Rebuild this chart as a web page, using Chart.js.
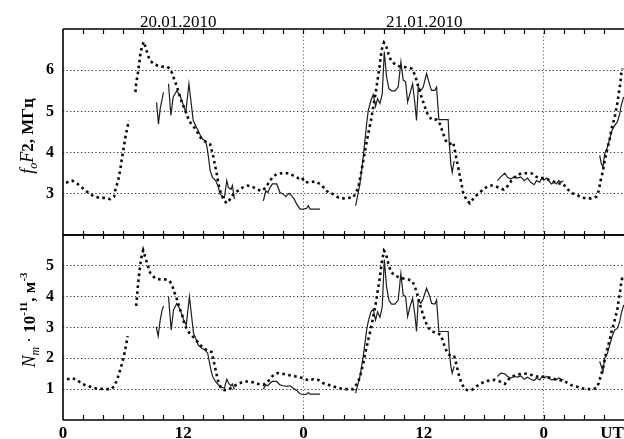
<!DOCTYPE html>
<html><head><meta charset="utf-8">
<script src="https://cdn.jsdelivr.net/npm/chart.js@4.4.1/dist/chart.umd.min.js"></script>
<style>
html,body{margin:0;padding:0;background:#fff;}
#wrap{position:relative;width:624px;height:439px;overflow:hidden;background:#fff;}
canvas{position:absolute;left:0;}
#top{top:0;}
#bot{top:230px;}
</style></head><body>
<div id="wrap"><canvas id="top" width="624" height="236"></canvas><canvas id="bot" width="624" height="209"></canvas></div>
<script>
// ---------- DATA (hours UT from 00 of 20.01.2010) ----------
const dateLabels = ['20.01.2010', '21.01.2010'];
const dateLabelHours = [11.5, 36.05];
const xTickValues = [0, 12, 24, 36, 48, 54.8];
const xTickLabels = ['0', '12', '0', '12', '0', 'UT'];
const dayBoundaries = [24, 48];
const yTicksTop = [3, 4, 5, 6];
const yTicksBottom = [1, 2, 3, 4, 5];

// model foF2 (dotted), MHz
const modelHoursTop = [0.3,0.9,1.4,1.9,2.3,2.7,3.2,3.7,4.2,4.7,
 5.1,5.2,5.5,5.7,5.9,6.07,6.23,6.4,6.57,6.9,
 7.23,7.3,7.47,7.6,7.73,7.9,8.07,8.27,8.47,8.67,
 9.07,9.57,10.07,10.4,10.67,10.9,11.13,11.4,11.57,11.8,
 12.07,12.33,12.57,12.8,13.07,13.4,13.73,14.05,14.35,14.69,
 14.85,15.02,15.18,15.35,15.52,15.78,16.11,16.35,16.68,17.01,
 17.44,17.91,18.44,18.91,19.34,19.84,20.24,20.57,20.9,21.33,
 21.9,22.5,23.0,23.49,23.82,24.16,24.66,25.15,25.65,26.08,
 26.48,26.98,27.48,27.98,28.48,28.98,29.48,29.74,29.97,30.21,
 30.47,30.74,30.97,31.2,31.4,31.64,31.8,32.04,32.23,32.47,
 32.73,33.07,33.46,33.96,34.46,34.79,35.06,35.29,35.52,35.79,
 36.06,36.39,36.79,37.29,37.62,37.95,38.28,38.62,38.95,39.18,
 39.45,39.71,39.94,40.28,40.61,41.11,41.6,42.11,42.6,43.0,
 43.5,44.0,44.43,44.77,45.26,45.76,46.26,46.76,47.26,47.76,
 48.26,48.75,49.42,49.92,50.25,50.75,51.25,51.74,52.24,52.74,
 53.24,53.47,53.67,53.9,54.07,54.3,54.57,54.8,55.07,55.33,
 55.47,55.63,55.73,55.85];
const modelFoF2 = [3.27,3.32,3.25,3.15,3.07,2.99,2.93,2.9,2.9,2.87,
 2.93,3.07,3.32,3.56,3.89,4.13,4.37,4.58,4.78,null,
 5.47,5.67,5.92,6.16,6.4,6.6,6.69,6.53,6.37,6.24,
 6.15,6.1,6.08,6.08,6.04,5.92,5.76,5.59,5.43,5.27,
 5.1,4.94,4.78,4.7,4.62,4.5,4.37,4.29,4.25,4.2,
 4.05,3.89,3.68,3.48,3.24,2.99,2.83,2.77,2.87,2.99,
 3.07,3.15,3.2,3.17,3.11,3.07,3.15,3.28,3.4,3.48,
 3.5,3.5,3.44,3.38,3.4,3.28,3.28,3.3,3.24,3.14,
 3.03,2.99,2.91,2.89,2.9,2.91,3.15,3.48,3.8,4.13,
 4.46,4.78,5.11,5.43,5.76,6.16,6.49,6.67,6.61,6.41,
 6.24,6.16,6.1,6.08,6.07,6.04,5.92,5.76,5.55,5.35,
 5.15,4.94,4.8,4.8,4.7,4.46,4.25,4.21,4.25,3.97,
 3.64,3.32,3.03,2.85,2.77,2.93,3.03,3.14,3.2,3.2,
 3.15,3.1,3.2,3.32,3.44,3.5,3.5,3.5,3.41,3.38,
 3.36,3.32,3.25,3.25,3.14,3.02,2.98,2.91,2.89,2.89,
 2.93,3.07,3.32,3.56,3.8,4.05,4.33,4.62,4.86,5.19,
 5.43,5.67,5.92,6.04];

// observed foF2 (solid), MHz
const obsHoursTop = [9.34,9.53,9.7,10.03,10.3,10.53,10.77,11.0,11.36,11.7,
 12.03,12.26,12.57,12.8,13.0,13.23,13.47,13.73,13.93,14.19,
 14.35,14.52,14.69,14.92,15.25,15.52,15.68,15.91,16.11,16.35,
 16.51,16.78,16.91,17.11,18.5,20.0,20.24,20.44,20.67,20.9,
 21.33,21.66,22.0,22.23,22.56,22.83,23.09,23.33,23.66,24.0,
 24.32,24.49,24.66,25.15,25.65,27.0,29.21,29.64,29.97,30.31,
 30.47,30.74,30.97,31.2,31.4,31.64,31.87,32.07,32.3,32.53,
 32.8,33.13,33.46,33.73,33.96,34.2,34.4,34.63,34.9,35.13,
 35.29,35.46,35.72,35.96,36.29,36.62,36.79,37.12,37.29,37.52,
 38.45,38.55,38.72,38.85,39.05,41.0,43.37,43.7,44.1,44.37,
 44.7,45.03,45.36,45.7,46.03,46.36,46.69,47.03,47.26,47.59,
 47.82,48.02,48.26,48.49,48.75,49.02,49.25,49.48,49.75,49.95,
 51.0,53.57,53.74,53.9,54.07,54.34,54.57,54.8,55.07,55.33,
 55.57,55.73,55.97];
const obsFoF2 = [5.22,4.69,5.06,5.46,null,5.67,4.9,5.35,5.5,5.38,
 5.14,4.98,5.67,5.19,4.78,4.66,4.54,4.41,4.33,4.29,
 4.17,3.89,3.56,3.4,3.32,3.15,2.99,2.95,2.91,3.32,
 3.15,3.11,3.2,2.87,null,2.83,3.07,3.03,3.15,3.24,
 3.24,3.03,2.99,2.93,3.01,2.95,2.87,2.75,2.63,2.63,
 2.65,2.71,2.63,2.63,2.63,null,2.71,3.24,3.89,4.7,
 5.02,5.27,5.41,5.12,5.31,5.19,5.43,6.45,5.84,5.55,
 5.5,5.5,5.59,6.2,5.76,5.72,5.23,5.43,5.67,5.19,
 4.78,5.59,5.51,5.59,5.92,5.63,5.51,5.51,5.59,4.8,
 4.8,4.25,3.72,3.52,3.8,null,3.32,3.41,3.5,3.4,
 3.36,3.41,3.38,3.41,3.32,3.38,3.28,3.22,3.32,3.28,
 3.4,3.33,3.38,3.32,3.24,3.28,3.24,3.32,3.28,3.32,
 null,3.93,3.73,3.65,3.97,4.13,4.33,4.54,4.66,4.74,
 4.94,5.15,5.35];

// model Nm (dotted), 10^11 m^-3
const modelHoursBottom = [0.4,0.9,1.4,1.9,2.4,2.9,3.4,3.9,4.4,4.8,
 5.1,5.4,5.65,5.9,6.1,6.3,6.45,6.9,7.3,7.4,
 7.5,7.65,7.8,8.0,8.2,8.45,8.7,9.2,9.7,10.2,
 10.65,10.9,11.1,11.4,11.65,11.9,12.1,12.4,12.65,12.9,
 13.2,13.55,13.9,14.4,14.85,15.05,15.25,15.45,15.7,16.1,
 16.5,17.01,17.5,18.0,18.5,19.0,19.5,20.0,20.33,20.67,
 21.0,21.43,21.9,22.5,23.0,23.49,24.0,24.49,25.0,25.5,
 26.0,26.48,26.98,27.48,27.98,28.48,28.98,29.48,29.74,29.97,
 30.21,30.47,30.74,30.97,31.2,31.4,31.64,31.8,32.04,32.23,
 32.47,32.73,33.07,33.46,33.96,34.46,34.86,35.06,35.29,35.52,
 35.79,36.06,36.39,36.79,37.29,37.72,38.05,38.38,38.78,39.05,
 39.28,39.51,39.78,40.11,40.44,40.84,41.2,41.61,42.11,42.6,
 43.1,43.6,44.1,44.43,44.77,45.26,45.76,46.26,46.76,47.26,
 47.76,48.26,48.75,49.42,49.92,50.25,50.75,51.25,51.74,52.24,
 52.74,53.24,53.47,53.67,53.9,54.07,54.3,54.57,54.8,55.07,
 55.33,55.47,55.63,55.73,55.85];
const modelNm = [1.32,1.36,1.3,1.17,1.11,1.06,1.01,1.01,1.0,1.0,
 1.09,1.3,1.57,1.84,2.11,2.43,2.72,null,3.7,4.05,
 4.43,4.86,5.24,5.5,5.29,5.02,4.77,4.59,4.56,4.56,
 4.51,4.37,4.16,3.89,3.62,3.4,3.13,2.92,2.81,2.73,
 2.62,2.49,2.36,2.25,2.2,1.9,1.6,1.3,1.08,0.97,
 0.98,1.09,1.17,1.25,1.25,1.22,1.17,1.14,1.22,1.32,
 1.46,1.52,1.5,1.46,1.43,1.39,1.36,1.28,1.32,1.3,
 1.19,1.14,1.09,1.04,1.0,1.0,1.0,1.25,1.52,1.84,
 2.22,2.6,2.97,3.35,3.73,4.16,4.64,5.08,5.49,5.4,
 5.08,4.81,4.7,4.64,4.59,4.56,4.51,4.37,4.16,3.89,
 3.57,3.3,3.03,2.87,2.83,2.76,2.43,2.16,2.06,2.06,
 1.79,1.46,1.19,1.0,0.96,0.98,1.07,1.17,1.25,1.28,
 1.3,1.25,1.17,1.3,1.41,1.46,1.5,1.5,1.46,1.41,
 1.41,1.39,1.36,1.3,1.28,1.22,1.13,1.09,1.03,1.0,
 1.0,1.03,1.19,1.41,1.68,1.95,2.27,2.6,2.92,3.24,
 3.57,3.89,4.21,4.48,4.64];

// observed Nm (solid), 10^11 m^-3
const obsHoursBottom = [9.3,9.5,9.7,9.9,10.03,10.3,10.53,10.8,11.03,11.36,
 11.7,12.03,12.3,12.62,12.86,13.03,13.3,13.5,13.85,14.19,
 14.45,14.6,14.8,15.0,15.35,15.6,15.85,16.11,16.35,16.58,
 16.78,16.91,17.11,18.5,20.0,20.24,20.44,20.67,20.9,21.33,
 21.66,22.0,22.33,22.66,23.0,23.33,23.66,24.0,24.32,24.49,
 24.66,25.15,25.65,27.0,29.21,29.64,29.97,30.31,30.47,30.74,
 30.97,31.2,31.4,31.64,31.87,32.07,32.3,32.53,32.8,33.13,
 33.46,33.73,33.96,34.2,34.4,34.63,34.9,35.13,35.29,35.46,
 35.72,35.96,36.29,36.62,36.79,37.12,37.29,37.52,38.45,38.55,
 38.72,38.85,39.05,41.0,43.37,43.7,44.1,44.37,44.7,45.03,
 45.36,45.7,46.03,46.36,46.69,47.03,47.26,47.59,47.82,48.02,
 48.26,48.49,48.75,49.02,49.25,49.48,49.75,49.95,51.0,53.57,
 53.74,53.9,54.07,54.34,54.57,54.8,55.07,55.33,55.57,55.73,
 55.97];
const obsNm = [3.03,2.72,3.24,3.57,3.7,null,4.0,2.92,3.57,3.78,
 3.57,3.26,3.08,4.0,3.3,2.81,2.6,2.43,2.33,2.27,
 2.16,1.9,1.57,1.36,1.2,1.11,1.06,1.03,1.32,1.17,
 1.11,1.17,1.0,null,1.0,1.14,1.11,1.19,1.25,1.25,
 1.14,1.11,1.09,1.11,1.03,0.96,0.85,0.82,0.84,0.89,
 0.84,0.84,0.84,null,0.87,1.41,2.06,2.92,3.19,3.51,
 3.59,3.24,3.51,3.33,3.67,5.2,4.32,3.89,3.76,3.76,
 3.89,4.75,4.05,4.0,3.35,3.67,3.94,3.4,2.87,3.89,
 3.78,3.94,4.27,4.0,3.78,3.76,3.89,2.87,2.87,2.27,
 1.73,1.52,1.75,null,1.41,1.52,1.5,1.41,1.36,1.41,
 1.39,1.43,1.32,1.39,1.32,1.28,1.36,1.3,1.41,1.36,
 1.41,1.36,1.3,1.32,1.3,1.36,1.32,1.3,null,1.9,
 1.73,1.57,2.0,2.16,2.43,2.7,2.92,2.97,3.19,3.46,
 3.73];

// ---------- RENDERING ----------
const SERIF = "'Liberation Serif','Times New Roman',serif";
Chart.defaults.font.family = SERIF;
Chart.defaults.color = '#000';

function pts(h, v) { return h.map((x, i) => ({ x: x, y: v[i] })); }

const frame = {
  id: 'frame',
  afterDraw(chart, args, o) {
    const ctx = chart.ctx, a = chart.chartArea, x = chart.scales.x;
    ctx.save();
    ctx.strokeStyle = '#000';
    ctx.lineWidth = 1.6;
    ctx.beginPath();
    ctx.moveTo(a.left, a.top); ctx.lineTo(a.right, a.top);
    ctx.moveTo(a.left, a.bottom); ctx.lineTo(a.right, a.bottom);
    ctx.moveTo(a.left, a.top); ctx.lineTo(a.left, a.bottom);
    ctx.stroke();
    ctx.lineWidth = 1.2;
    ctx.beginPath();
    for (let h = 2; h < 56; h += 2) {
      const px = Math.round(x.getPixelForValue(h)) + 0.5;
      ctx.moveTo(px, a.top); ctx.lineTo(px, a.top + o.topLen);
      ctx.moveTo(px, a.bottom); ctx.lineTo(px, a.bottom - o.bottomLen);
    }
    ctx.stroke();
    ctx.restore();
  }
};

const richTitle = {
  id: 'richTitle',
  afterDraw(chart, args, o) {
    if (!o.pieces) return;
    const ctx = chart.ctx;
    ctx.save();
    ctx.fillStyle = '#000';
    ctx.textBaseline = 'alphabetic';
    ctx.textAlign = 'left';
    let w = 0;
    for (const p of o.pieces) { ctx.font = p.font; w += ctx.measureText(p.text).width; }
    ctx.translate(o.x, o.y);
    ctx.rotate(-Math.PI / 2);
    let cx = -w / 2;
    for (const p of o.pieces) {
      ctx.font = p.font;
      ctx.fillText(p.text, cx, p.dy || 0);
      cx += ctx.measureText(p.text).width;
    }
    ctx.restore();
  }
};

const dates = {
  id: 'dates',
  afterDraw(chart, args, o) {
    if (!o.show) return;
    const ctx = chart.ctx, x = chart.scales.x;
    ctx.save();
    ctx.fillStyle = '#000';
    ctx.font = '17px ' + SERIF;
    ctx.textAlign = 'center';
    ctx.textBaseline = 'alphabetic';
    dateLabels.forEach((t, i) => ctx.fillText(t, x.getPixelForValue(dateLabelHours[i]), 27));
    ctx.restore();
  }
};

function zeroPad(s) { s.paddingLeft = 0; s.paddingRight = 0; s.paddingTop = 0; s.paddingBottom = 0; }

function makeChart(id, cfg) {
  return new Chart(document.getElementById(id), {
    type: 'line',
    data: {
      datasets: [
        { data: pts(cfg.mH, cfg.mV), borderColor: '#0a0a0a', borderWidth: 2.6,
          borderDash: [2.6, 3.4], borderCapStyle: 'butt', pointRadius: 0, tension: 0, spanGaps: false },
        { data: pts(cfg.oH, cfg.oV), borderColor: '#1e1e1e', borderWidth: 1.2,
          pointRadius: 0, tension: 0, spanGaps: false }
      ]
    },
    plugins: [frame, richTitle, dates],
    options: {
      responsive: false, animation: false, devicePixelRatio: 1,
      layout: { padding: cfg.pad },
      plugins: {
        legend: { display: false }, tooltip: { enabled: false }, title: { display: false },
        frame: cfg.frame, richTitle: cfg.title, dates: { show: cfg.dates }
      },
      scales: {
        x: {
          type: 'linear', min: 0, max: 56,
          afterBuildTicks: s => { s.ticks = xTickValues.map(v => ({ value: v })); },
          afterFit: s => { s.height = cfg.xH; zeroPad(s); },
          ticks: {
            display: cfg.xLabels, autoSkip: false, maxRotation: 0, padding: 3,
            font: { size: 17, weight: 'bold', family: SERIF }, color: '#000',
            callback: (v, i) => xTickLabels[i]
          },
          grid: {
            drawTicks: false, lineWidth: 1,
            color: c => (c.tick && dayBoundaries.includes(c.tick.value)) ? '#666' : 'rgba(0,0,0,0)'
          },
          border: { display: false, dash: [1.2, 2.4] }
        },
        y: {
          type: 'linear', min: cfg.yMin, max: cfg.yMax,
          afterBuildTicks: s => { s.ticks = cfg.yTicks.map(v => ({ value: v })); },
          afterFit: s => { s.width = 63; zeroPad(s); },
          ticks: { padding: 9, font: { size: 16, weight: 'bold', family: SERIF }, color: '#000',
                   callback: v => String(v) },
          grid: { drawTicks: false, lineWidth: 1, color: '#2a2a2a' },
          border: { display: false, dash: [1.2, 2.4] }
        }
      }
    }
  });
}

const fIt = 'italic 18px ' + SERIF, fB = 'bold 17px ' + SERIF, fSub = 'italic 12px ' + SERIF,
      fSup = 'bold 11px ' + SERIF, fR = '17px ' + SERIF;

makeChart('top', {
  mH: modelHoursTop, mV: modelFoF2, oH: obsHoursTop, oV: obsFoF2,
  yMin: 2, yMax: 7, yTicks: yTicksTop,
  pad: { top: 29, left: 0, right: 0, bottom: 1 }, xH: 0, xLabels: false, dates: true,
  frame: { topLen: 5, bottomLen: 4 },
  title: { x: 33, y: 136, pieces: [
    { text: 'f', font: fIt }, { text: 'o', font: fSub, dy: 4 }, { text: 'F', font: fIt },
    { text: '2, МГц', font: fB } ] }
});

makeChart('bot', {
  mH: modelHoursBottom, mV: modelNm, oH: obsHoursBottom, oV: obsNm,
  yMin: 0, yMax: 6, yTicks: yTicksBottom,
  pad: { top: 5, left: 0, right: 0, bottom: 0 }, xH: 19, xLabels: true, dates: false,
  frame: { topLen: 4, bottomLen: 5 },
  title: { x: 35, y: 90, pieces: [
    { text: 'N', font: fIt }, { text: 'm', font: fSub, dy: 4 }, { text: ' · ', font: fR },
    { text: '10', font: fB }, { text: '-11', font: fSup, dy: -8 }, { text: ', м', font: fB },
    { text: '-3', font: fSup, dy: -8 } ] }
});
</script>
</body></html>
